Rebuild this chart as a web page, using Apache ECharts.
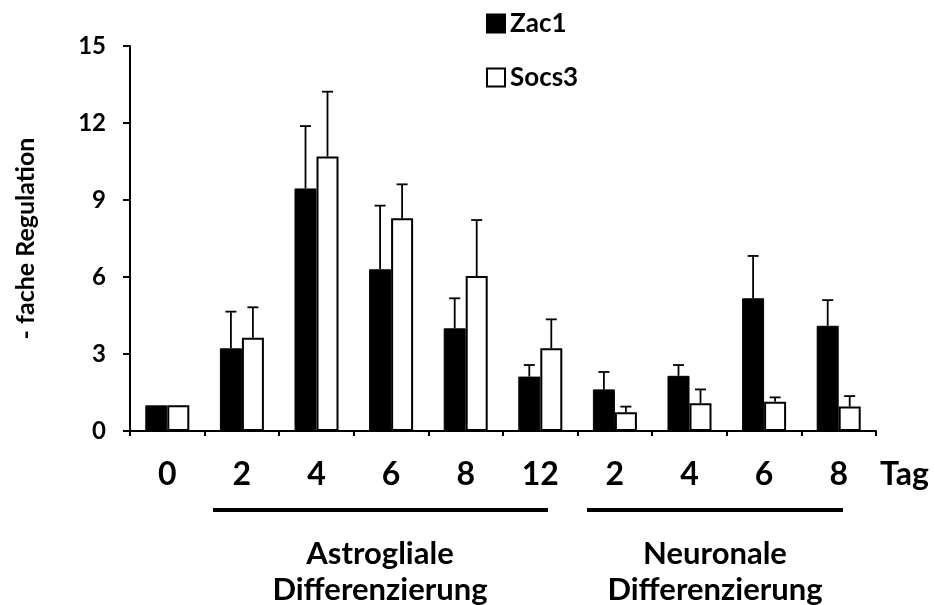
<!DOCTYPE html>
<html>
<head>
<meta charset="utf-8">
<script src="https://cdn.jsdelivr.net/npm/echarts@6/dist/echarts.min.js"></script>
<style>
  html, body { margin: 0; padding: 0; background: #fff; }
  #chart { width: 934px; height: 605px; }
</style>
</head>
<body>
<div id="chart"></div>
<script>
// days of differentiation (astroglial 0..12, neuronal 2..8)
var categories = ['0', '2', '4', '6', '8', '12', '2 ', '4 ', '6 ', '8 '];
var zac1 = [1, 3.22, 9.45, 6.3, 4.0, 2.12, 1.62, 2.15, 5.17, 4.1];
var zac1Err = [1, 4.65, 11.88, 8.78, 5.17, 2.57, 2.3, 2.57, 6.82, 5.1];
var socs3 = [1, 3.63, 10.69, 8.29, 6.04, 3.22, 0.73, 1.08, 1.14, 0.95];
var socs3Err = [1, 4.82, 13.22, 9.61, 8.22, 4.35, 0.95, 1.62, 1.31, 1.36];
var yTicks = { min: 0, max: 15, interval: 3 };

var font = 'Lato';

function errData(vals, tops) {
  return vals.map(function (v, i) { return [i, v, tops[i]]; });
}

function errRender(offset) {
  return function (params, api) {
    var base = api.coord([api.value(0), api.value(1)]);
    var top = api.coord([api.value(0), api.value(2)]);
    var x = base[0] + offset;
    if (Math.abs(base[1] - top[1]) < 1) return null;
    var st = { stroke: '#000', lineWidth: 1.8 };
    return {
      type: 'group',
      children: [
        { type: 'line', shape: { x1: x, y1: base[1], x2: x, y2: top[1] }, style: st },
        { type: 'line', shape: { x1: x - 5.5, y1: top[1], x2: x + 5.5, y2: top[1] }, style: st }
      ]
    };
  };
}

var chart = echarts.init(document.getElementById('chart'));

var option = {
  animation: false,
  backgroundColor: '#fff',
  textStyle: { fontFamily: font },
  grid: { left: 130, right: 58, top: 46, bottom: 174 },
  legend: {
    orient: 'vertical',
    left: 481,
    top: 4,
    icon: 'rect',
    itemWidth: 18,
    itemHeight: 18,
    itemGap: 25,
    data: ['Zac1', 'Socs3'],
    textStyle: { fontFamily: font, fontWeight: 'bold', fontSize: 26, color: '#000', lineHeight: 29 }
  },
  xAxis: {
    type: 'category',
    data: categories,
    boundaryGap: true,
    axisLine: { lineStyle: { color: '#000', width: 2 } },
    axisTick: { show: true, length: 5, lineStyle: { color: '#000', width: 2 } },
    axisLabel: { color: '#000', fontFamily: font, fontWeight: 'bold', fontSize: 32, margin: 28,
      formatter: function (v) { return v.trim(); } }
  },
  yAxis: {
    type: 'value',
    min: yTicks.min,
    max: yTicks.max,
    interval: yTicks.interval,
    name: '- fache Regulation',
    nameLocation: 'middle',
    nameGap: 92,
    nameTextStyle: { color: '#000', fontFamily: font, fontWeight: 'bold', fontSize: 25 },
    splitLine: { show: false },
    axisLine: { show: true, lineStyle: { color: '#000', width: 2 } },
    axisTick: { show: true, length: 7, lineStyle: { color: '#000', width: 2 } },
    axisLabel: { color: '#000', fontFamily: font, fontWeight: 'bold', fontSize: 24, margin: 24 }
  },
  series: [
    {
      name: 'Zac1',
      type: 'bar',
      data: zac1,
      barWidth: 22,
      barGap: '0%',
      itemStyle: { color: '#000', borderColor: '#000', borderWidth: 1 }
    },
    {
      name: 'Socs3',
      type: 'bar',
      data: socs3,
      barWidth: 22,
      barGap: '0%',
      itemStyle: { color: '#fff', borderColor: '#000', borderWidth: 2 }
    },
    {
      type: 'custom',
      renderItem: errRender(-11),
      data: errData(zac1, zac1Err),
      z: 5,
      silent: true
    },
    {
      type: 'custom',
      renderItem: errRender(11),
      data: errData(socs3, socs3Err),
      z: 5,
      silent: true
    }
  ],
  graphic: [
    { type: 'text', left: 880, top: 459,
      style: { text: 'Tag', font: 'bold 32px ' + font, fill: '#000' } },
    { type: 'rect', shape: { x: 213, y: 508, width: 335, height: 4 }, style: { fill: '#000' } },
    { type: 'rect', shape: { x: 587, y: 508, width: 256, height: 4 }, style: { fill: '#000' } },
    { type: 'text', x: 380, y: 554,
      style: { text: 'Astrogliale', font: 'bold 31px ' + font, fill: '#000', align: 'center', verticalAlign: 'middle' } },
    { type: 'text', x: 380, y: 590,
      style: { text: 'Differenzierung', font: 'bold 31px ' + font, fill: '#000', align: 'center', verticalAlign: 'middle' } },
    { type: 'text', x: 715, y: 554,
      style: { text: 'Neuronale', font: 'bold 31px ' + font, fill: '#000', align: 'center', verticalAlign: 'middle' } },
    { type: 'text', x: 715, y: 590,
      style: { text: 'Differenzierung', font: 'bold 31px ' + font, fill: '#000', align: 'center', verticalAlign: 'middle' } }
  ]
};

chart.setOption(option);
</script>
</body>
</html>
